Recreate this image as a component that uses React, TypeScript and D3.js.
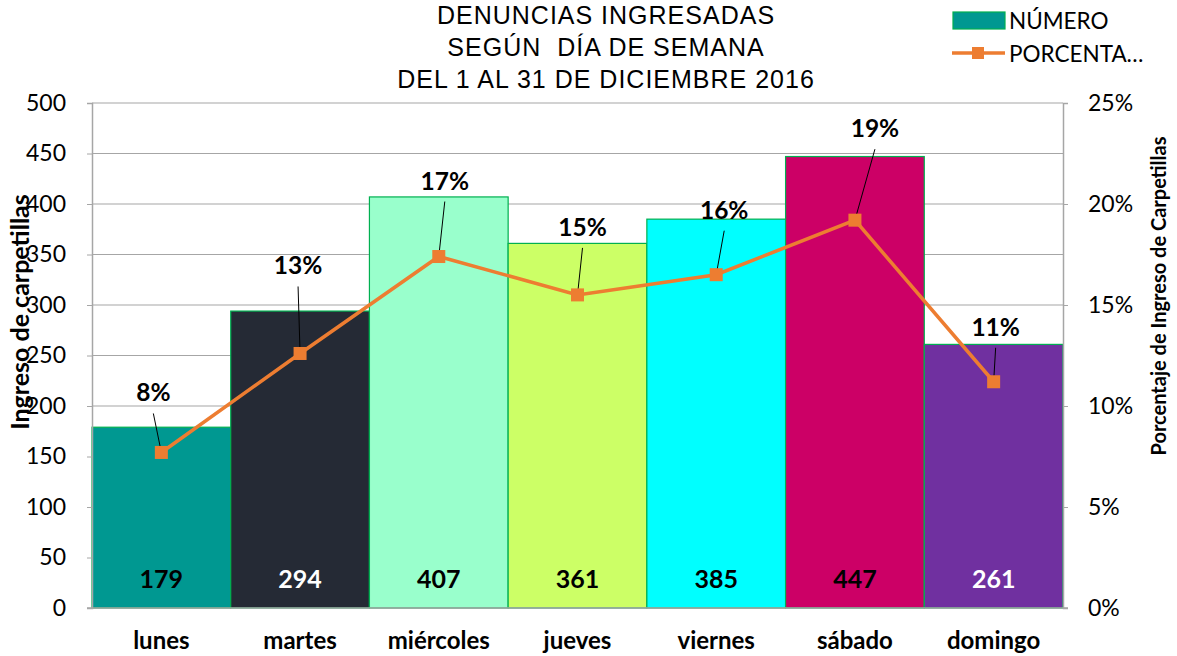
import { useEffect, useRef } from 'react';
import * as d3 from "d3";

const days = ["lunes", "martes", "miércoles", "jueves", "viernes", "sábado", "domingo"];
const counts = [179, 294, 407, 361, 385, 447, 261];
const percents = [7.7, 12.6, 17.4, 15.5, 16.5, 19.2, 11.2];
const percentLabels = ["8%", "13%", "17%", "15%", "16%", "19%", "11%"];
const barColors = ["#009891", "#252a35", "#99ffcc", "#ccff66", "#00ffff", "#cc0066", "#7030a0"];
const valueColors = ["#000", "#fff", "#000", "#000", "#000", "#000", "#fff"];
// label position relative to the point (dx, baseline dy)
const labelOffsets = [[-8, -51], [-2, -79], [6, -67], [5, -59], [8, -56], [20, -83], [2, -46]];
const leftTicks = [0, 50, 100, 150, 200, 250, 300, 350, 400, 450, 500];
const rightTicks = [0, 5, 10, 15, 20, 25];
const titleLines = ["DENUNCIAS INGRESADAS", "SEGÚN  DÍA DE SEMANA", "DEL 1 AL 31 DE DICIEMBRE 2016"];

export default function App() {
  const ref = useRef<SVGSVGElement>(null);

  useEffect(() => {
    if (!ref.current) return;
    document.body.style.margin = "0";
    const svg = d3.select(ref.current);
    svg.selectAll("*").remove();

    const width = 1177, height = 656;
    const left = 92, right = 1063, top = 103, bottom = 608;
    const font = "Lato, 'Open Sans', sans-serif";

    const x = d3.scaleBand().domain(days).range([left, right]).padding(0);
    const y = d3.scaleLinear().domain([0, 500]).range([bottom, top]);
    const yp = d3.scaleLinear().domain([0, 25]).range([bottom, top]);

    svg.attr("viewBox", [0, 0, width, height]).attr("width", width).attr("height", height);

    // gridlines
    svg.append("g").selectAll("line").data(leftTicks.slice(1)).join("line")
      .attr("x1", left).attr("x2", right)
      .attr("y1", d => y(d)).attr("y2", d => y(d))
      .attr("stroke", "#a6a6a6").attr("stroke-width", 1.2);

    // bars
    svg.append("g").selectAll("rect").data(counts).join("rect")
      .attr("x", (d, i) => x(days[i])!)
      .attr("y", d => y(d))
      .attr("width", x.bandwidth())
      .attr("height", d => y(0) - y(d))
      .attr("fill", (d, i) => barColors[i])
      .attr("stroke", "#00b050").attr("stroke-width", 1.2);

    // value labels
    svg.append("g").selectAll("text").data(counts).join("text")
      .attr("x", (d, i) => x(days[i])! + x.bandwidth() / 2)
      .attr("y", 588)
      .attr("text-anchor", "middle")
      .style("font-family", font).style("font-weight", "bold").style("font-size", "25px")
      .attr("fill", (d, i) => valueColors[i])
      .text(d => d);

    // axes
    const gl = svg.append("g").attr("transform", `translate(${left},0)`)
      .call(d3.axisLeft(y).tickValues(leftTicks).tickSize(5).tickPadding(21));
    gl.select(".domain").attr("stroke", "#a6a6a6").attr("stroke-width", 1.5);
    gl.selectAll(".tick line").attr("stroke", "#a6a6a6");
    gl.selectAll("text").style("font-family", font).style("font-size", "23px").attr("fill", "#000");

    const gr = svg.append("g").attr("transform", `translate(${right},0)`)
      .call(d3.axisRight(yp).tickValues(rightTicks).tickSize(5).tickPadding(20).tickFormat(d => `${d}%`));
    gr.select(".domain").attr("stroke", "#a6a6a6").attr("stroke-width", 1.5);
    gr.selectAll(".tick line").attr("stroke", "#a6a6a6");
    gr.selectAll("text").style("font-family", font).style("font-size", "23px").attr("fill", "#000");

    svg.append("line").attr("x1", left - 5).attr("x2", right + 5).attr("y1", bottom).attr("y2", bottom)
      .attr("stroke", "#a6a6a6").attr("stroke-width", 1.5);

    // category labels
    svg.append("g").selectAll("text").data(days).join("text")
      .attr("x", d => x(d)! + x.bandwidth() / 2)
      .attr("y", 649)
      .attr("text-anchor", "middle")
      .style("font-family", font).style("font-weight", "bold").style("font-size", "24px")
      .text(d => d);

    // percent line
    const px = (i: number) => x(days[i])! + x.bandwidth() / 2;
    const line = d3.line<number>().x((d, i) => px(i)).y(d => yp(d));
    svg.append("path").datum(percents).attr("d", line)
      .attr("fill", "none").attr("stroke", "#ed7d31").attr("stroke-width", 3.5);

    // leader lines and labels
    const lbl = svg.append("g");
    percents.forEach((p, i) => {
      const cx = px(i), cy = yp(p);
      const [dx, dy] = labelOffsets[i];
      lbl.append("line")
        .attr("x1", cx + dx).attr("y1", cy + dy + 12)
        .attr("x2", cx).attr("y2", cy)
        .attr("stroke", "#000").attr("stroke-width", 1);
      lbl.append("text")
        .attr("x", cx + dx).attr("y", cy + dy)
        .attr("text-anchor", "middle")
        .style("font-family", font).style("font-weight", "bold").style("font-size", "24.5px")
        .text(percentLabels[i]);
    });

    svg.append("g").selectAll("rect").data(percents).join("rect")
      .attr("x", (d, i) => px(i) - 6.5).attr("y", d => yp(d) - 6.5)
      .attr("width", 13).attr("height", 13).attr("fill", "#ed7d31");

    // title
    svg.append("g").selectAll("text").data(titleLines).join("text")
      .attr("x", 606).attr("y", (d, i) => 24 + i * 32)
      .attr("text-anchor", "middle")
      .attr("xml:space", "preserve")
      .style("white-space", "pre")
      .style("font-family", "'Liberation Sans', Arial, sans-serif").style("font-size", "25px")
      .style("letter-spacing", "1px")
      .text(d => d);

    // axis titles
    svg.append("text")
      .attr("transform", `translate(29,312) rotate(-90)`)
      .attr("text-anchor", "middle")
      .style("font-family", font).style("font-weight", "bold").style("font-size", "25px")
      .text("Ingreso de carpetillas");
    svg.append("text")
      .attr("transform", `translate(1166,296) rotate(-90)`)
      .attr("text-anchor", "middle")
      .style("font-family", font).style("font-weight", "bold").style("font-size", "20px")
      .text("Porcentaje de Ingreso de Carpetillas");

    // legend
    const lg = svg.append("g").style("font-family", font).style("font-size", "22.5px");
    lg.append("rect").attr("x", 953).attr("y", 12).attr("width", 52).attr("height", 17)
      .attr("fill", "#009891").attr("stroke", "#00b050").attr("stroke-width", 1.2);
    lg.append("text").attr("x", 1009).attr("y", 29).text("NÚMERO");
    lg.append("line").attr("x1", 952).attr("x2", 1005).attr("y1", 53).attr("y2", 53)
      .attr("stroke", "#ed7d31").attr("stroke-width", 3.5);
    lg.append("rect").attr("x", 972).attr("y", 47).attr("width", 12).attr("height", 12).attr("fill", "#ed7d31");
    lg.append("text").attr("x", 1009).attr("y", 62).text("PORCENTA…");
  }, []);

  return <svg ref={ref} style={{ display: "block" }}></svg>;
}
